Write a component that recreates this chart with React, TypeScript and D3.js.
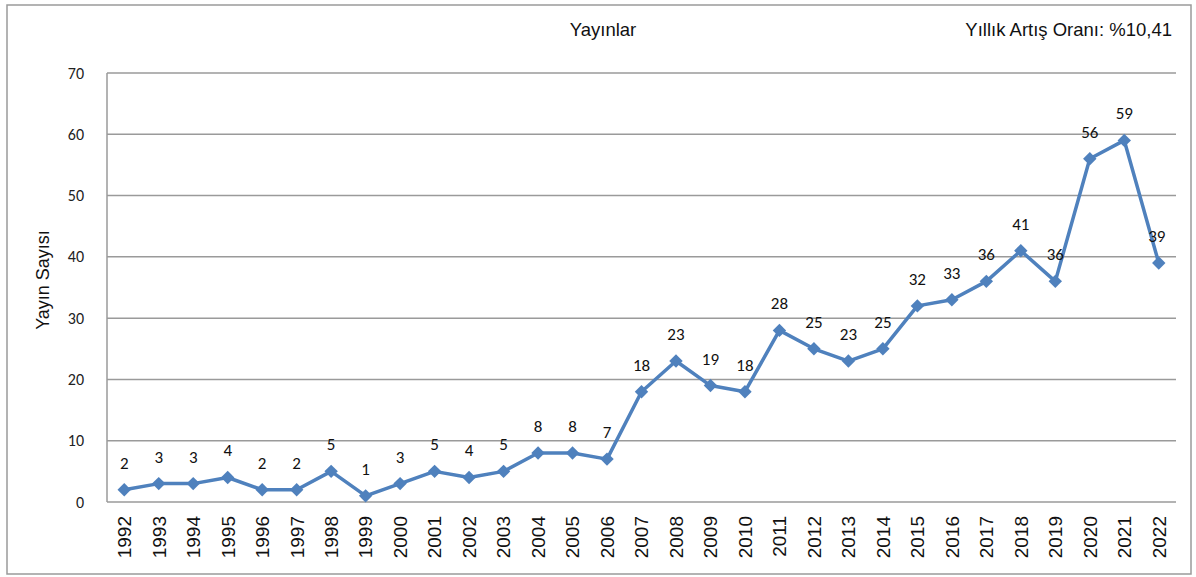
import React from "react";
import * as d3 from "d3";

const years = d3.range(1992, 2023).map(String);
const counts = [2, 3, 3, 4, 2, 2, 5, 1, 3, 5, 4, 5, 8, 8, 7, 18, 23, 19, 18, 28, 25, 23, 25, 32, 33, 36, 41, 36, 56, 59, 39];
const yTicks = [0, 10, 20, 30, 40, 50, 60, 70];

const width = 1196;
const height = 577;
const margin = {left: 107, right: 20, top: 73, bottom: 75};
const narrow = "'Liberation Sans Narrow', 'Arial Narrow', 'Liberation Sans', Arial, sans-serif";
const numFont = "Carlito, Calibri, 'Open Sans', 'Liberation Sans', sans-serif";

export default function App() {
    const x = d3.scaleBand()
        .domain(years)
        .range([margin.left, width - margin.right]);
    const y = d3.scaleLinear()
        .domain([0, 70])
        .range([height - margin.bottom, margin.top]);

    const cx = (i: number) => (x(years[i]) as number) + x.bandwidth() / 2;
    const line = d3.line<number>()
        .x((d, i) => cx(i))
        .y(d => y(d));
    // square turned 45 degrees, like the spreadsheet marker
    const marker = d3.symbol().type(d3.symbolSquare).size(90)();

    return (
        <svg width={width} height={height} style={{position: "absolute", left: 0, top: 0}}>
            <rect x={7} y={5} width={1184} height={569} fill="#fff" stroke="#9a9a9a" strokeWidth={1.5} />
            {yTicks.map(t => (
                <g key={t}>
                    {t > 0 && <line x1={margin.left} x2={width - margin.right} y1={y(t)} y2={y(t)} stroke="#9a9a9a" strokeWidth={1.5} />}
                    <text x={84} y={y(t)} dy="0.35em" textAnchor="end" fontFamily={numFont} fontSize={16} fill="#222">{t}</text>
                </g>
            ))}
            <line x1={margin.left} x2={margin.left} y1={margin.top} y2={y(0)} stroke="#9a9a9a" strokeWidth={1.5} />
            <line x1={margin.left} x2={width - margin.right} y1={y(0)} y2={y(0)} stroke="#9a9a9a" strokeWidth={1.5} />
            {years.map((yr, i) => (
                <text key={yr} transform={`translate(${cx(i)},${y(0) + 14}) rotate(-90)`} dy="0.36em" textAnchor="end"
                      fontFamily={narrow} fontSize={19} fill="#111">{yr}</text>
            ))}
            <text transform={`translate(43,280) rotate(-90)`} dy="0.35em" textAnchor="middle" fontFamily={narrow} fontSize={18} fill="#111">Yayın Sayısı</text>
            <text x={603} y={36} textAnchor="middle" fontFamily={narrow} fontSize={18.5} fill="#111">Yayınlar</text>
            <text x={1172} y={36} textAnchor="end" fontFamily={narrow} fontSize={18.5} fill="#111">Yıllık Artış Oranı: %10,41</text>
            <path d={line(counts) || ""} fill="none" stroke="#4F81BD" strokeWidth={3.5} strokeLinejoin="round" />
            {counts.map((v, i) => (
                <g key={i}>
                    <path d={marker || ""} transform={`translate(${cx(i)},${y(v)}) rotate(45)`} fill="#4F81BD" />
                    <text x={i === counts.length - 1 ? cx(i) - 2 : cx(i)} y={y(v) - 21} textAnchor="middle" fontFamily={numFont} fontSize={17} fill="#111">{v}</text>
                </g>
            ))}
        </svg>
    );
}
